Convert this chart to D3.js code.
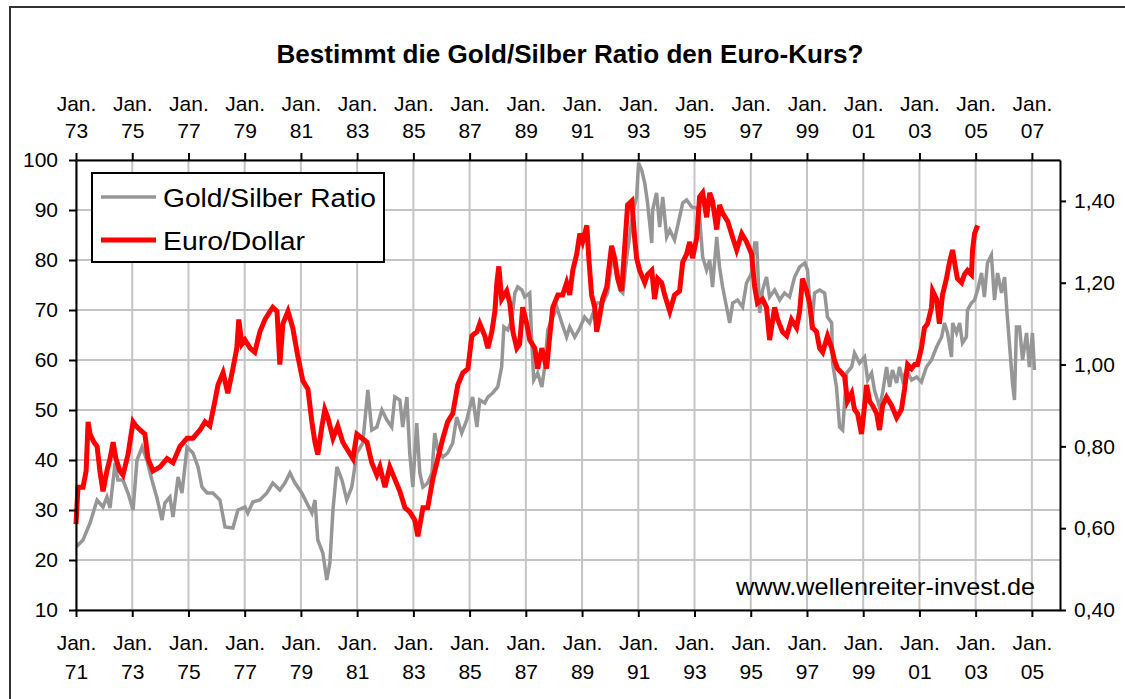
<!DOCTYPE html>
<html>
<head>
<meta charset="utf-8">
<script src="https://cdn.jsdelivr.net/npm/d3@7"></script>
<style>
  body { margin: 0; background: #fff; }
  svg { display: block; font-family: "Liberation Sans", Arial, sans-serif; }
  .axis text { font-size: 21px; fill: #000; }
  .axis path, .axis line { stroke: #000; stroke-width: 2px; }
</style>
</head>
<body>
<div id="chart"></div>
<script>
// Gold/Silber Ratio (bottom time axis, left value axis)
var ratioYears = [
  1971.00,1971.25,1971.50,1971.75,1971.96,1972.10,1972.21,1972.39,1972.49,1972.67,
  1972.85,1973.03,1973.17,1973.35,1973.52,1973.70,1973.88,1974.06,1974.16,1974.34,
  1974.45,1974.63,1974.77,1974.95,1975.16,1975.34,1975.48,1975.66,1975.87,1976.12,
  1976.30,1976.58,1976.76,1977.01,1977.11,1977.29,1977.54,1977.79,1978.00,1978.25,
  1978.43,1978.61,1978.79,1979.03,1979.21,1979.39,1979.50,1979.60,1979.78,1979.92,
  1980.03,1980.14,1980.28,1980.46,1980.63,1980.81,1980.99,1981.20,1981.38,1981.52,
  1981.70,1981.88,1982.06,1982.23,1982.34,1982.52,1982.62,1982.77,1982.87,1982.98,
  1983.12,1983.23,1983.34,1983.51,1983.66,1983.76,1983.87,1984.05,1984.22,1984.40,
  1984.54,1984.72,1984.90,1985.01,1985.11,1985.26,1985.36,1985.54,1985.65,1985.82,
  1986.00,1986.14,1986.22,1986.36,1986.50,1986.61,1986.71,1986.86,1986.96,1987.14,
  1987.21,1987.28,1987.42,1987.57,1987.67,1987.78,1987.96,1988.10,1988.28,1988.45,
  1988.56,1988.74,1988.92,1989.09,1989.27,1989.52,1989.73,1989.91,1990.09,1990.23,
  1990.34,1990.45,1990.59,1990.69,1990.80,1990.94,1991.01,1991.12,1991.23,1991.33,
  1991.48,1991.51,1991.65,1991.76,1991.87,1992.01,1992.12,1992.29,1992.47,1992.58,
  1992.72,1992.90,1993.08,1993.18,1993.29,1993.43,1993.54,1993.64,1993.79,1993.89,
  1994.00,1994.14,1994.25,1994.36,1994.53,1994.71,1994.85,1995.03,1995.14,1995.21,
  1995.32,1995.42,1995.56,1995.67,1995.85,1996.03,1996.20,1996.38,1996.56,1996.74,
  1996.92,1997.02,1997.16,1997.27,1997.45,1997.63,1997.73,1997.88,1997.91,1998.05,
  1998.16,1998.27,1998.41,1998.59,1998.69,1998.87,1999.05,1999.16,1999.30,1999.40,
  1999.58,1999.69,1999.83,1999.94,2000.04,2000.19,2000.29,2000.40,2000.54,2000.72,
  2000.90,2001.07,2001.25,2001.43,2001.61,2001.79,2001.89,2002.00,2002.14,2002.18,
  2002.32,2002.43,2002.53,2002.67,2002.71,2002.85,2002.96,2003.07,2003.21,2003.31,
  2003.42,2003.56,2003.67,2003.78,2003.92,2004.03,2004.10,2004.20,2004.31,2004.38,
  2004.45,2004.56,2004.67,2004.81,2004.91,2005.02,2005.09
];
var ratioValues = [
  22.6,24.0,27.4,32.0,30.6,32.6,30.4,39.4,36.0,36.0,
  33.4,30.0,40.0,42.6,40.0,36.0,32.4,28.0,31.4,32.6,
  28.6,36.6,33.4,42.6,41.4,38.6,34.6,33.4,33.4,32.0,
  26.6,26.4,30.0,30.6,29.4,31.6,32.0,33.4,35.4,34.0,
  35.4,37.4,35.4,33.4,31.4,29.4,32.0,24.0,21.4,16.0,
  19.4,30.0,38.6,36.0,32.0,34.6,41.4,43.4,54.0,46.0,
  46.6,50.0,48.0,46.6,52.6,52.0,46.6,52.6,41.4,34.6,
  47.4,37.4,34.6,35.4,37.4,45.4,42.0,40.6,41.4,43.4,
  48.6,45.4,48.0,50.6,52.6,46.6,52.0,51.4,52.6,53.4,
  54.6,58.6,66.6,66.0,68.0,73.4,74.6,74.0,72.6,73.4,
  64.0,56.0,57.4,54.6,58.6,66.0,68.6,70.6,67.4,64.6,
  66.6,64.6,66.4,68.6,67.4,71.4,71.4,73.4,81.4,76.6,
  74.0,73.4,80.6,84.6,89.4,92.6,99.4,98.0,95.4,91.4,
  83.4,90.0,93.4,86.6,92.6,84.6,86.0,84.0,88.6,91.4,
  92.0,90.6,90.4,88.6,80.6,78.0,80.0,74.6,84.6,78.6,
  74.6,70.6,67.4,71.4,72.0,70.6,75.4,77.4,83.4,83.4,
  69.4,74.0,76.6,72.6,74.0,72.0,73.4,72.6,76.6,78.6,
  79.4,78.0,66.0,73.4,74.0,73.4,68.6,67.4,59.4,54.6,
  46.6,46.0,57.4,58.6,61.4,59.4,60.6,56.0,57.4,54.0,
  50.6,53.4,58.6,54.6,58.0,55.4,58.6,56.0,58.0,56.0,
  56.6,55.6,58.6,60.0,62.6,64.6,67.4,65.4,60.6,67.4,
  65.4,67.4,63.4,64.6,70.0,71.4,72.0,74.0,77.4,72.6,
  79.4,81.0,72.0,77.4,73.4,76.6,70.6,63.4,55.4,52.0,
  66.6,66.6,60.0,65.4,58.6,65.4,58.0
];

// Euro/Dollar (top time axis, right value axis)
var euroYears = [
  1973.00,1973.07,1973.25,1973.36,1973.43,1973.50,1973.64,1973.75,1973.85,1973.96,
  1974.10,1974.21,1974.32,1974.42,1974.56,1974.67,1974.85,1975.03,1975.13,1975.28,
  1975.45,1975.56,1975.74,1975.99,1976.24,1976.45,1976.70,1976.95,1977.16,1977.41,
  1977.59,1977.76,1977.94,1978.05,1978.23,1978.40,1978.58,1978.72,1978.79,1978.90,
  1979.01,1979.19,1979.36,1979.54,1979.72,1979.90,1980.00,1980.15,1980.25,1980.36,
  1980.54,1980.71,1980.89,1981.07,1981.25,1981.39,1981.50,1981.60,1981.75,1981.85,
  1981.96,1982.14,1982.31,1982.49,1982.67,1982.85,1982.99,1983.17,1983.35,1983.52,
  1983.70,1983.81,1983.99,1984.16,1984.34,1984.52,1984.70,1984.87,1985.05,1985.16,
  1985.34,1985.51,1985.69,1985.87,1986.05,1986.22,1986.40,1986.58,1986.76,1986.94,
  1987.08,1987.26,1987.36,1987.54,1987.65,1987.79,1987.90,1987.97,1988.04,1988.14,
  1988.32,1988.43,1988.54,1988.68,1988.78,1988.89,1989.03,1989.14,1989.32,1989.42,
  1989.57,1989.74,1989.85,1989.96,1990.14,1990.31,1990.45,1990.56,1990.67,1990.81,
  1990.92,1991.02,1991.17,1991.24,1991.34,1991.45,1991.52,1991.63,1991.73,1991.88,
  1991.98,1992.05,1992.16,1992.27,1992.41,1992.52,1992.62,1992.77,1992.87,1992.94,
  1993.05,1993.23,1993.33,1993.48,1993.58,1993.69,1993.83,1993.94,1994.12,1994.29,
  1994.47,1994.58,1994.72,1994.83,1994.93,1995.08,1995.18,1995.29,1995.43,1995.54,
  1995.64,1995.79,1995.89,1996.00,1996.18,1996.36,1996.50,1996.68,1996.85,1997.03,
  1997.14,1997.24,1997.42,1997.56,1997.67,1997.85,1997.96,1998.13,1998.28,1998.45,
  1998.63,1998.74,1998.84,1998.99,1999.09,1999.20,1999.34,1999.45,1999.56,1999.73,
  1999.88,1999.98,2000.09,2000.23,2000.34,2000.44,2000.59,2000.69,2000.80,2000.94,
  2001.05,2001.12,2001.23,2001.33,2001.48,2001.58,2001.69,2001.83,2002.01,2002.19,
  2002.36,2002.47,2002.58,2002.72,2002.83,2002.93,2003.07,2003.18,2003.29,2003.43,
  2003.47,2003.61,2003.71,2003.82,2003.96,2004.07,2004.18,2004.25,2004.35,2004.50,
  2004.60,2004.71,2004.85,2004.89,2004.96,2005.07
];
var euroValues = [
  0.61,0.70,0.70,0.74,0.86,0.83,0.81,0.80,0.74,0.69,
  0.74,0.77,0.81,0.77,0.74,0.73,0.78,0.86,0.85,0.84,
  0.83,0.77,0.74,0.75,0.77,0.76,0.80,0.82,0.82,0.84,
  0.86,0.85,0.91,0.95,0.98,0.93,0.99,1.04,1.11,1.05,
  1.06,1.04,1.03,1.08,1.11,1.13,1.14,1.13,1.00,1.10,
  1.13,1.09,1.02,0.96,0.94,0.86,0.81,0.78,0.85,0.89,
  0.87,0.82,0.85,0.81,0.79,0.77,0.83,0.82,0.81,0.76,
  0.73,0.75,0.70,0.75,0.72,0.69,0.65,0.64,0.62,0.58,
  0.65,0.65,0.72,0.77,0.82,0.86,0.88,0.95,0.98,0.99,
  1.07,1.08,1.10,1.07,1.04,1.08,1.13,1.20,1.24,1.16,
  1.18,1.15,1.08,1.04,1.05,1.14,1.10,1.06,1.04,0.99,
  1.04,0.99,1.07,1.14,1.17,1.17,1.20,1.17,1.23,1.27,
  1.32,1.30,1.34,1.26,1.17,1.14,1.08,1.12,1.16,1.19,
  1.25,1.29,1.26,1.21,1.18,1.29,1.39,1.40,1.31,1.26,
  1.23,1.20,1.22,1.23,1.16,1.21,1.20,1.17,1.13,1.17,
  1.18,1.25,1.27,1.30,1.26,1.31,1.41,1.42,1.36,1.42,
  1.40,1.33,1.39,1.37,1.35,1.31,1.28,1.32,1.30,1.27,
  1.19,1.15,1.16,1.14,1.06,1.14,1.11,1.08,1.07,1.11,
  1.09,1.13,1.21,1.18,1.15,1.09,1.08,1.04,1.03,1.07,
  1.04,1.01,0.99,0.98,0.97,0.91,0.93,0.89,0.88,0.83,
  0.90,0.95,0.91,0.90,0.88,0.84,0.90,0.92,0.90,0.87,
  0.89,0.94,1.00,0.99,1.00,1.00,1.04,1.09,1.10,1.14,
  1.18,1.16,1.10,1.17,1.21,1.25,1.28,1.25,1.21,1.20,
  1.22,1.23,1.22,1.28,1.32,1.34
];

// tick labels
var bottomTickYears = [1971,1973,1975,1977,1979,1981,1983,1985,1987,1989,1991,1993,1995,1997,1999,2001,2003,2005];
var topTickYears = [1973,1975,1977,1979,1981,1983,1985,1987,1989,1991,1993,1995,1997,1999,2001,2003,2005,2007];
var leftTicks = [10,20,30,40,50,60,70,80,90,100];
var rightTicks = [0.4,0.6,0.8,1.0,1.2,1.4];

var seriesNames = ["Gold/Silber Ratio", "Euro/Dollar"];
var seriesColors = ["#969696", "#ff0000"];

var titleText = "Bestimmt die Gold/Silber Ratio den Euro-Kurs?";
var sourceText = "www.wellenreiter-invest.de";

// SVG canvas
var svgWidth = 1125;
var svgHeight = 699;
var margin = { top: 160, right: 65, bottom: 89, left: 76 };
var chartWidth = svgWidth - margin.left - margin.right;
var chartHeight = svgHeight - margin.top - margin.bottom;

var svg = d3.select("#chart").append("svg")
  .attr("width", svgWidth)
  .attr("height", svgHeight);

// outer frame (runs past the picture on the right and bottom)
svg.append("rect")
  .attr("x", 10).attr("y", 7)
  .attr("width", 1200).attr("height", 800)
  .attr("fill", "none")
  .attr("stroke", "#333")
  .attr("stroke-width", 2);

svg.append("text")
  .attr("x", margin.left + chartWidth / 2 + 2)
  .attr("y", 63)
  .attr("text-anchor", "middle")
  .attr("textLength", 587)
  .attr("lengthAdjust", "spacingAndGlyphs")
  .style("font-size", "25px")
  .style("font-weight", "bold")
  .text(titleText);

var chartGroup = svg.append("g")
  .attr("transform", `translate(${margin.left}, ${margin.top})`);

// scales
var xBottom = d3.scaleLinear().domain([1971, 2006]).range([0, chartWidth]);
var xTop = d3.scaleLinear().domain([1973, 2008]).range([0, chartWidth]);
var yLeft = d3.scaleLinear().domain([10, 100]).range([chartHeight, 0]);
var yRight = d3.scaleLinear().domain([0.4, 1.5]).range([chartHeight, 0]);

// grid
chartGroup.append("g").selectAll("line")
  .data(bottomTickYears)
  .enter().append("line")
  .attr("x1", d => xBottom(d)).attr("x2", d => xBottom(d))
  .attr("y1", 0).attr("y2", chartHeight)
  .attr("stroke", "#c4c4c4").attr("stroke-width", 2);

chartGroup.append("g").selectAll("line")
  .data(leftTicks)
  .enter().append("line")
  .attr("x1", 0).attr("x2", chartWidth)
  .attr("y1", d => yLeft(d)).attr("y2", d => yLeft(d))
  .attr("stroke", "#c4c4c4").attr("stroke-width", 2);

// lines
var ratioData = ratioYears.map((t, i) => ({ year: t, value: ratioValues[i] }));
var euroData = euroYears.map((t, i) => ({ year: t, value: euroValues[i] }));

var ratioLine = d3.line().x(d => xBottom(d.year)).y(d => yLeft(d.value));
var euroLine = d3.line().x(d => xTop(d.year)).y(d => yRight(d.value));

chartGroup.append("path")
  .datum(ratioData)
  .attr("d", ratioLine)
  .attr("fill", "none")
  .attr("stroke", seriesColors[0])
  .attr("stroke-width", 3.5)
  .attr("stroke-linejoin", "miter");

chartGroup.append("path")
  .datum(euroData)
  .attr("d", euroLine)
  .attr("fill", "none")
  .attr("stroke", seriesColors[1])
  .attr("stroke-width", 5)
  .attr("stroke-linejoin", "miter");

// two-line "Jan. / yy" labels
function janLabels(g, y1, y2) {
  g.selectAll(".tick text").each(function (d) {
    var t = d3.select(this).attr("dy", null).attr("y", null).text(null);
    t.append("tspan").attr("x", 0).attr("y", y1).text("Jan.");
    t.append("tspan").attr("x", 0).attr("y", y2).text(String(d).slice(2));
  });
}

chartGroup.append("g")
  .attr("class", "axis")
  .attr("transform", `translate(0, ${chartHeight})`)
  .call(d3.axisBottom(xBottom).tickValues(bottomTickYears).tickSize(7).tickSizeOuter(0))
  .call(g => janLabels(g, 40, 69));

chartGroup.append("g")
  .attr("class", "axis")
  .call(d3.axisTop(xTop).tickValues(topTickYears).tickSize(7).tickSizeOuter(0))
  .call(g => janLabels(g, -49, -22));

chartGroup.append("g")
  .attr("class", "axis")
  .call(d3.axisLeft(yLeft).tickValues(leftTicks).tickSize(7).tickPadding(11).tickSizeOuter(0));

chartGroup.append("g")
  .attr("class", "axis")
  .attr("transform", `translate(${chartWidth}, 0)`)
  .call(d3.axisRight(yRight).tickValues(rightTicks).tickSize(6).tickPadding(8).tickSizeOuter(0)
    .tickFormat(d => d3.format(".2f")(d).replace(".", ",")));

// legend
var legend = chartGroup.append("g").attr("transform", "translate(16, 13)");
legend.append("rect")
  .attr("width", 292).attr("height", 89)
  .attr("fill", "#fff").attr("stroke", "#000").attr("stroke-width", 2);

var legendRows = [24, 67];
var legendWidths = [213, 142];
seriesNames.forEach(function (name, i) {
  legend.append("line")
    .attr("x1", 9).attr("x2", 64)
    .attr("y1", legendRows[i]).attr("y2", legendRows[i])
    .attr("stroke", seriesColors[i])
    .attr("stroke-width", i === 0 ? 3.5 : 5);
  legend.append("text")
    .attr("x", 71).attr("y", legendRows[i] + 10)
    .attr("textLength", legendWidths[i])
    .attr("lengthAdjust", "spacingAndGlyphs")
    .style("font-size", "26px")
    .text(name);
});

// source
chartGroup.append("text")
  .attr("x", chartWidth - 25)
  .attr("y", chartHeight - 15)
  .attr("text-anchor", "end")
  .attr("textLength", 299)
  .attr("lengthAdjust", "spacingAndGlyphs")
  .style("font-size", "24px")
  .text(sourceText);
</script>
</body>
</html>
